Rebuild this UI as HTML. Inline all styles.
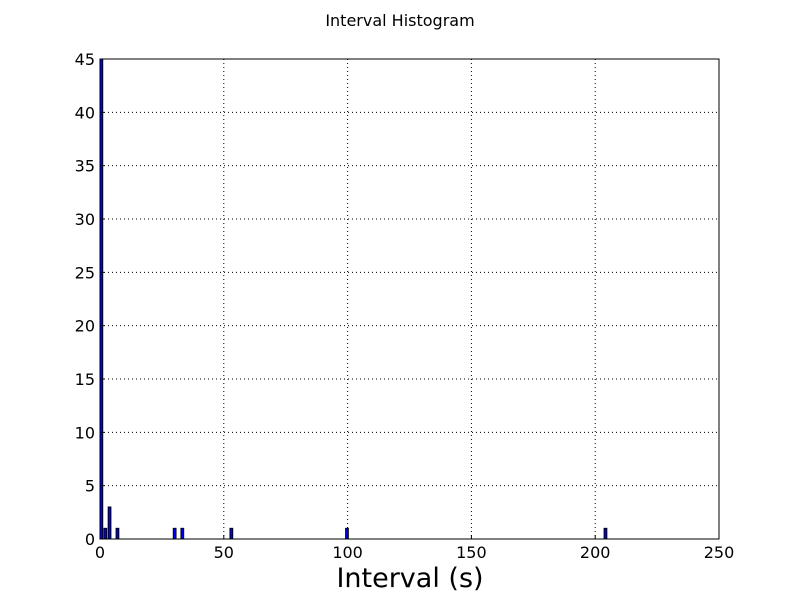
<!DOCTYPE html>
<html><head><meta charset="utf-8"><style>body{margin:0;background:#fff}svg{display:block;font-family:"DejaVu Sans","Liberation Sans",sans-serif}</style></head>
<body>
<svg id="c" width="800" height="600">
<rect width="800" height="600" fill="#fff"/>
<text x="400" y="26" text-anchor="middle" font-size="16">Interval Histogram</text>
<text x="410" y="587" text-anchor="middle" font-size="27">Interval (s)</text>
<g id="grid"></g><g id="bars"></g><g id="ticks"></g>
<rect x="100" y="59" width="619" height="480" fill="none" stroke="#000" stroke-width="1"/>
</svg>
<script>
const binStarts=[0,1.6,3.3,6.5,29.6,32.7,52.5,99.2,203.6];
const counts=[45,1,3,1,1,1,1,1,1];
const binWidth=1.1;
const xTicks=[0,50,100,150,200,250];
const yTicks=[0,5,10,15,20,25,30,35,40,45];
const X0=100,X1=719,Y0=539,Y1=59;
const xs=v=>X0+(v-0)/250*(X1-X0);
const ys=v=>Y0-(v/45)*(Y0-Y1);
const NS="http://www.w3.org/2000/svg";
function mk(t,a,p){const e=document.createElementNS(NS,t);for(const k in a)e.setAttribute(k,a[k]);p.appendChild(e);return e;}
const g=document.getElementById('grid'),b=document.getElementById('bars'),t=document.getElementById('ticks');
xTicks.forEach(v=>{const x=xs(v);
 if(v>0&&v<250){const l=mk('line',{x1:x,x2:x,y1:Y1,y2:Y0,stroke:'#000','stroke-dasharray':'1,3','stroke-width':1},g);
 
 }
 const tl=mk('line',{x1:x,x2:x,y1:Y0,y2:Y0-4,stroke:'#000'},t);
 
 
 const tx=mk('text',{x:x,y:558,'text-anchor':'middle','font-size':16},t);tx.textContent=v;
 
 });
yTicks.forEach(v=>{const y=ys(v);
 if(v>0&&v<45){const l=mk('line',{x1:X0,x2:X1,y1:y,y2:y,stroke:'#000','stroke-dasharray':'1,3','stroke-width':1},g);
 
 }
 const tl=mk('line',{x1:X0,x2:X0+4,y1:y,y2:y,stroke:'#000'},t);
 
 
 const tx=mk('text',{x:95,y:y+6,'text-anchor':'end','font-size':16},t);tx.textContent=v;
 
 });
binStarts.forEach((s,i)=>{const x=xs(s),w=xs(s+binWidth)-x,y=ys(counts[i]);
 const r=mk('rect',{x:x,y:y,width:w,height:Y0-y,fill:'#0000ff',stroke:'#000','stroke-width':1},b);
 
 });
</script>
</body></html>
